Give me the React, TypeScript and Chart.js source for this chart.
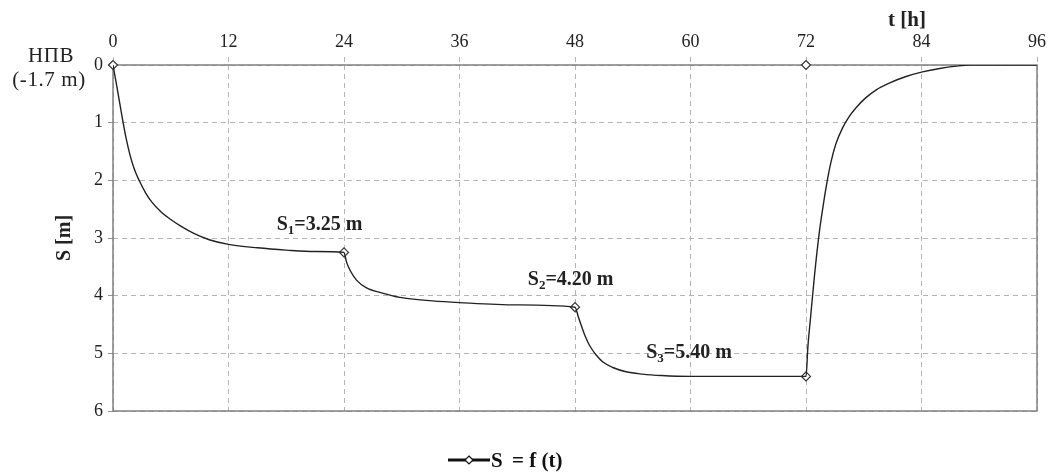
import React, { useEffect, useRef } from "react";
import { Chart, registerables } from "chart.js";

Chart.register(...registerables);

// time [h]
const times: number[] = [
  0, 0.25, 0.5, 0.75, 1.0, 1.4, 1.75, 2.2, 2.8, 3.4, 4, 5, 6, 7, 8.4, 10, 12, 15, 18, 21, 24,
  24.25, 24.6, 25.3, 26.3, 28.1, 29.8, 33.2, 36, 41.9, 48,
  48.35, 48.7, 49.05, 49.5, 50.2, 50.9, 52, 53.3, 55, 57, 60, 66, 72,
  72.2, 72.45, 72.9, 73.4, 73.8, 74.15, 74.6, 75.1, 75.8, 76.5, 77.2, 78.2, 79.3, 80.7, 82.4, 84.1,
  85.9, 87.6, 89, 96,
];
// drawdown S [m]
const drawdown: number[] = [
  0, 0.23, 0.47, 0.71, 0.95, 1.3, 1.55, 1.8, 2.03, 2.22, 2.37, 2.55, 2.68, 2.79, 2.92, 3.03, 3.11, 3.17, 3.21, 3.235, 3.25,
  3.41, 3.55, 3.73, 3.86, 3.96, 4.03, 4.09, 4.12, 4.16, 4.2,
  4.37, 4.54, 4.7, 4.86, 5.03, 5.15, 5.25, 5.32, 5.36, 5.385, 5.4, 5.4, 5.4,
  4.88, 4.42, 3.62, 2.88, 2.42, 2.06, 1.68, 1.37, 1.09, 0.89, 0.74, 0.57, 0.43, 0.31, 0.2, 0.12,
  0.06, 0.02, 0, 0,
];
// marker points
const markerTimes: number[] = [0, 24, 48, 72, 72];
const markerValues: number[] = [0, 3.25, 4.2, 5.4, 0];

// annotations
const annoStage: string[] = ["1", "2", "3"];
const annoValues: string[] = ["3.25", "4.20", "5.40"];
const annoAnchorT: number[] = [17.0, 43.1, 55.4];
const annoAnchorS: number[] = [2.86, 3.81, 5.08];

const xTicks: number[] = [0, 12, 24, 36, 48, 60, 72, 84, 96];
const yTicks: number[] = [0, 1, 2, 3, 4, 5, 6];

const SERIF = "'Liberation Serif', 'Times New Roman', serif";

const textPlugin = {
  id: "textPlugin",
  beforeDatasetsDraw(chart: any) {
    const ctx = chart.ctx;
    const area = chart.chartArea;
    ctx.save();
    ctx.strokeStyle = "#808080";
    ctx.lineWidth = 1.5;
    ctx.setLineDash([]);
    ctx.strokeRect(area.left, area.top, area.right - area.left, area.bottom - area.top);
    ctx.restore();
  },
  afterDraw(chart: any) {
    const ctx = chart.ctx;
    const xs = chart.scales.x;
    const ys = chart.scales.y;
    const area = chart.chartArea;
    ctx.save();
    ctx.fillStyle = "#222";
    // НПВ label
    ctx.font = `21px ${SERIF}`;
    ctx.textAlign = "center";
    ctx.textBaseline = "alphabetic";
    (ctx as any).letterSpacing = "0.6px";
    ctx.fillText("НПВ", 51, 62);
    ctx.fillText("(-1.7 m)", 49, 86);
    (ctx as any).letterSpacing = "0px";

    // x axis title
    ctx.font = `bold 21px ${SERIF}`;
    ctx.fillText("t [h]", xs.getPixelForValue(82.5), 26);

    // y axis title
    ctx.save();
    ctx.translate(65, (area.top + area.bottom) / 2);
    ctx.rotate(-Math.PI / 2);
    ctx.textBaseline = "middle";
    ctx.font = `bold 20px ${SERIF}`;
    ctx.fillText("S [m]", 0, 0);
    ctx.restore();

    // annotations
    ctx.textAlign = "left";
    for (let i = 0; i < annoStage.length; i++) {
      let x = xs.getPixelForValue(annoAnchorT[i]);
      const y = ys.getPixelForValue(annoAnchorS[i]);
      ctx.font = `bold 20px ${SERIF}`;
      ctx.fillText("S", x, y);
      x += ctx.measureText("S").width;
      ctx.font = `bold 13px ${SERIF}`;
      ctx.fillText(annoStage[i], x, y + 4);
      x += ctx.measureText(annoStage[i]).width;
      ctx.font = `bold 20px ${SERIF}`;
      ctx.fillText("=" + annoValues[i] + " m", x, y);
    }

    // legend
    const ly = 460;
    ctx.strokeStyle = "#111";
    ctx.lineWidth = 3;
    ctx.beginPath();
    ctx.moveTo(448, ly);
    ctx.lineTo(490, ly);
    ctx.stroke();
    ctx.fillStyle = "#fff";
    ctx.lineWidth = 1.2;
    ctx.beginPath();
    ctx.moveTo(469, ly - 4);
    ctx.lineTo(473, ly);
    ctx.lineTo(469, ly + 4);
    ctx.lineTo(465, ly);
    ctx.closePath();
    ctx.fill();
    ctx.stroke();
    ctx.fillStyle = "#111";
    ctx.font = `bold 21px ${SERIF}`;
    ctx.textAlign = "left";
    ctx.fillText("S", 491, 467);
    ctx.fillText("= f (t)", 512, 467);
    ctx.restore();
  },
};

export default function App() {
  const ref = useRef<HTMLCanvasElement | null>(null);
  useEffect(() => {
    if (!ref.current) return;
    const chart = new Chart(ref.current, {
      type: "line",
      data: {
        datasets: [
          {
            label: "S = f(t)",
            data: times.map((t, i) => ({ x: t, y: drawdown[i] })),
            borderColor: "#222",
            borderWidth: 1.4,
            pointRadius: 0,
            cubicInterpolationMode: "monotone",
            fill: false,
          },
          {
            label: "markers",
            data: markerTimes.map((t, i) => ({ x: t, y: markerValues[i] })),
            showLine: false,
            clip: false,
            pointStyle: "rectRot",
            pointRadius: 4.5,
            pointBackgroundColor: "#fff",
            pointBorderColor: "#333",
            pointBorderWidth: 1.2,
          },
        ],
      },
      options: {
        responsive: false,
        animation: false,
        devicePixelRatio: 1,
        layout: { padding: { left: 0, top: 0, right: 15, bottom: 63 } },
        plugins: { legend: { display: false }, tooltip: { enabled: false } },
        scales: {
          x: {
            type: "linear",
            position: "top",
            min: 0,
            max: 96,
            afterBuildTicks: (s: any) => {
              s.ticks = xTicks.map((v) => ({ value: v }));
            },
            afterFit: (s: any) => {
              s.height = 65;
            },
            ticks: {
              font: { family: SERIF, size: 18 },
              color: "#222",
              padding: 4,
              maxRotation: 0,
            },
            grid: {
              color: "#b4b4b4",
              lineWidth: 1,
              tickLength: 8,
              tickColor: "#b4b4b4",
              tickBorderDash: [5, 4],
            },
            border: { display: false, dash: [5, 4] },
          },
          y: {
            type: "linear",
            reverse: true,
            min: 0,
            max: 6,
            afterBuildTicks: (s: any) => {
              s.ticks = yTicks.map((v) => ({ value: v }));
            },
            afterFit: (s: any) => {
              s.width = 113;
            },
            ticks: {
              font: { family: SERIF, size: 18 },
              color: "#222",
              padding: 5,
            },
            grid: {
              color: "#b4b4b4",
              lineWidth: 1,
              tickLength: 5,
              tickColor: "#909090",
              tickBorderDash: [],
            },
            border: { display: false, dash: [5, 4] },
          },
        },
      },
      plugins: [textPlugin],
    } as any);
    return () => chart.destroy();
  }, []);
  return (
    <div style={{ position: "fixed", left: 0, top: 0, width: 1052, height: 474, background: "#fff" }}>
      <canvas ref={ref} width={1052} height={474} style={{ width: 1052, height: 474 }} />
    </div>
  );
}
